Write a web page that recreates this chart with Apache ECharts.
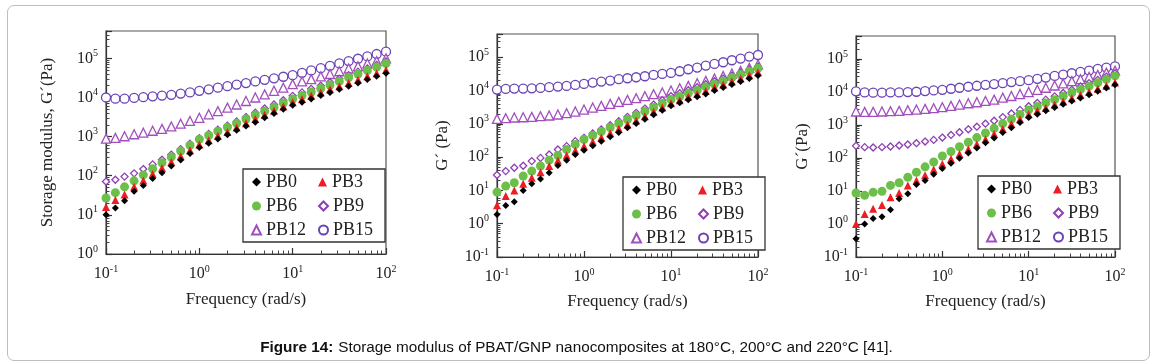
<!DOCTYPE html>
<html>
<head>
<meta charset="utf-8">
<script src="https://cdn.jsdelivr.net/npm/echarts@6/dist/echarts.min.js"></script>
<style>
  html, body { margin: 0; padding: 0; background: #fff; }
  #wrap { position: relative; width: 1153px; height: 364px; }
  #frame { position: absolute; left: 7px; top: 5px; width: 1143px; height: 356px;
           border: 1px solid #bdbdbd; border-radius: 7px; box-sizing: border-box; }
  #chart { position: absolute; left: 0; top: 0; width: 1153px; height: 364px; }
</style>
</head>
<body>
<div id="wrap">
  <div id="frame"></div>
  <div id="chart"></div>
</div>
<script>
// angular frequency (rad/s), 10 points per decade
const freq = [0.1, 0.126, 0.158, 0.2, 0.251, 0.316, 0.398, 0.501, 0.631, 0.794,
  1, 1.26, 1.58, 2, 2.51, 3.16, 3.98, 5.01, 6.31, 7.94,
  10, 12.6, 15.8, 20, 25.1, 31.6, 39.8, 50.1, 63.1, 79.4, 100];

const names = ['PB0', 'PB3', 'PB6', 'PB9', 'PB12', 'PB15'];
const yTitles = ['Storage modulus, G\u00b4(Pa)', 'G\u00b4 (Pa)', 'G\u00b4(Pa)'];
const yMins = [1, 0.1, 0.1];
const caption = 'Storage modulus of PBAT/GNP nanocomposites at 180°C, 200°C and 220°C [41].';

// 180 °C
const pb0At180 = [10, 15, 23, 40, 56, 85, 120, 178, 251, 372, 525, 676, 871, 1120, 1450, 1860, 2340, 3020, 3890, 5010, 6310, 7590, 9120, 11200, 13500, 16200, 19500, 23400, 28800, 34700, 41700];
const pb3At180 = [16, 24, 33, 52, 76, 110, 158, 224, 316, 447, 631, 813, 1050, 1320, 1700, 2190, 2820, 3630, 4570, 5890, 7590, 9120, 11000, 13500, 16200, 19500, 23400, 28200, 34700, 41700, 50100];
const pb6At180 = [27, 37, 52, 74, 105, 151, 214, 302, 427, 603, 851, 1070, 1380, 1740, 2190, 2820, 3550, 4470, 5620, 7240, 9120, 11200, 13800, 17000, 20900, 25700, 32400, 39800, 49000, 60300, 74100];
const pb9At180 = [71, 79, 95, 115, 148, 195, 257, 347, 479, 661, 912, 1170, 1510, 1910, 2450, 3160, 4070, 5250, 6610, 8510, 11000, 13500, 16600, 20000, 24500, 30200, 37200, 45700, 55000, 67600, 83200];
const pb12At180 = [890, 930, 1020, 1150, 1260, 1410, 1580, 1820, 2140, 2510, 3020, 3720, 4470, 5500, 6610, 8130, 10000, 12000, 14800, 17800, 21900, 25700, 29500, 34700, 39800, 46800, 55000, 63100, 74100, 85100, 100000];
const pb15At180 = [10000, 9330, 9330, 9770, 10200, 10700, 11200, 11700, 12600, 13500, 14800, 16200, 17800, 19500, 21400, 23400, 25700, 28200, 30900, 33900, 37200, 42700, 49000, 56200, 64600, 74100, 85100, 97700, 112000, 129000, 148000];

// 200 °C
const pb0At200 = [1.9, 3.5, 4.6, 10, 16, 22, 34, 56, 81, 120, 162, 219, 302, 407, 550, 759, 1020, 1380, 1860, 2570, 3470, 4270, 5250, 6460, 7940, 10000, 12300, 15100, 18600, 22900, 28200];
const pb3At200 = [3.6, 6.8, 10, 16, 24, 35, 54, 79, 112, 158, 214, 288, 389, 525, 708, 955, 1260, 1700, 2290, 3090, 4170, 5130, 6460, 7940, 9770, 12300, 15100, 18600, 22900, 28800, 35500];
const pb6At200 = [8.9, 13.5, 17, 27, 38, 54, 81, 112, 170, 240, 339, 447, 589, 776, 1020, 1350, 1780, 2340, 3090, 4070, 5370, 6610, 8320, 10200, 12900, 15800, 19500, 24500, 30200, 38000, 46800];
const pb9At200 = [29, 38, 48, 55, 76, 95, 120, 170, 214, 302, 380, 513, 676, 912, 1200, 1620, 2140, 2880, 3800, 5130, 6760, 8320, 10200, 12600, 15500, 19100, 22900, 28200, 34700, 42700, 52500];
const pb12At200 = [1410, 1480, 1550, 1580, 1620, 1700, 1780, 1910, 2090, 2340, 2690, 3090, 3470, 3980, 4570, 5250, 5890, 6760, 7760, 8710, 10000, 11700, 13800, 16600, 19500, 22900, 27500, 32400, 38900, 47900, 60300];
const pb15At200 = [10700, 11200, 11500, 11500, 11700, 12000, 12600, 13200, 13800, 14800, 15800, 17400, 18600, 20000, 21900, 23400, 25100, 26900, 29500, 31600, 33900, 38000, 43700, 49000, 56200, 63100, 70800, 81300, 91200, 105000, 117000];

// 220 °C
const pb0At220 = [0.36, 1.0, 1.48, 1.66, 2.7, 5.8, 8.3, 15.8, 21, 32, 48, 69, 98, 141, 200, 288, 407, 589, 832, 1200, 1700, 2140, 2690, 3390, 4270, 5370, 6610, 8320, 10500, 13200, 16600];
const pb3At220 = [1.0, 2.0, 2.9, 3.8, 6.5, 8.7, 14.8, 21, 30, 45, 66, 93, 132, 186, 263, 372, 537, 759, 1070, 1510, 2140, 2690, 3310, 4170, 5130, 6460, 8130, 10000, 12600, 15500, 19500];
const pb6At220 = [8.7, 7.4, 9.1, 9.8, 14.8, 17.8, 26, 37, 54, 76, 115, 158, 219, 302, 417, 575, 794, 1100, 1510, 2090, 2880, 3630, 4680, 5890, 7410, 9550, 12000, 15100, 19100, 24500, 30900];
const pb9At220 = [234, 214, 209, 214, 224, 240, 257, 282, 316, 355, 417, 501, 603, 741, 891, 1100, 1350, 1740, 2240, 2880, 3720, 4680, 5890, 7410, 9330, 11700, 14800, 18600, 23400, 29500, 37200];
const pb12At220 = [2570, 2510, 2510, 2570, 2630, 2690, 2820, 2950, 3090, 3240, 3470, 3800, 4170, 4570, 4900, 5370, 5890, 6760, 7590, 8710, 10000, 11700, 13500, 15800, 18200, 21400, 24500, 28800, 33100, 38900, 44700];
const pb15At220 = [10500, 9770, 9550, 9550, 9770, 9770, 10000, 10200, 10700, 11200, 11700, 12600, 13500, 14500, 15500, 16600, 17400, 18600, 20000, 21400, 22900, 25100, 27500, 30900, 33900, 37200, 40700, 44700, 50100, 55000, 60300];

const panels = [
  [pb0At180, pb3At180, pb6At180, pb9At180, pb12At180, pb15At180],
  [pb0At200, pb3At200, pb6At200, pb9At200, pb12At200, pb15At200],
  [pb0At220, pb3At220, pb6At220, pb9At220, pb12At220, pb15At220]
];

const serif = '"Liberation Serif", "DejaVu Serif", serif';
const sans = '"Liberation Sans Narrow", "Liberation Sans", Arial, sans-serif';
const ink = '#222';

// marker look per sample
const looks = [
  { symbol: 'diamond', size: 7, fill: '#000', line: '#000' },
  { symbol: 'triangle', size: 8, fill: '#ee1c23', line: '#ee1c23' },
  { symbol: 'circle', size: 9, fill: '#6cc049', line: '#6cc049' },
  { symbol: 'diamond', size: 7, fill: '#fff', line: '#8e3fb3' },
  { symbol: 'triangle', size: 9, fill: '#fff', line: '#a24fbd' },
  { symbol: 'circle', size: 9, fill: '#fff', line: '#6a43b6' }
];

const grids = [
  { left: 106, top: 31, width: 280, height: 223 },
  { left: 497, top: 34, width: 261, height: 223 },
  { left: 856, top: 36, width: 259, height: 221 }
];
const legendPos = [
  { left: 243, top: 169 },
  { left: 623, top: 177 },
  { left: 978, top: 176 }
];
const xNameGap = [37, 36, 36];
const yNameGap = [50, 46, 45];

// log minor tick positions (2..9 x 10^n) inside [lo, hi]
function minorValues(lo, hi) {
  const out = [];
  for (let e = Math.floor(Math.log10(lo)); e <= Math.ceil(Math.log10(hi)); e++) {
    for (let m = 2; m <= 9; m++) {
      const v = m * Math.pow(10, e);
      if (v > lo * 1.0001 && v < hi * 0.9999) out.push(v);
    }
  }
  return out;
}

function powLabel(v) {
  const e = Math.log10(v);
  const r = Math.round(e);
  if (Math.abs(e - r) > 1e-6) return '';
  return '{b|10}{s|' + (r < 0 ? '-' + (-r) : r) + '}';
}

const powRich = {
  b: { fontFamily: serif, fontSize: 16, color: ink, lineHeight: 20 },
  s: { fontFamily: serif, fontSize: 10, color: ink, verticalAlign: 'top', lineHeight: 12 }
};

const xAxes = [], yAxes = [], series = [], legends = [];

grids.forEach((g, p) => {
  const lineStyle = { color: '#333', width: 1.2 };
  const minorStyle = { color: '#444', width: 1 };
  const yMax = 500000;
  g.show = true;
  g.borderColor = '#555';
  g.borderWidth = 1.2;
  g.backgroundColor = 'transparent';

  xAxes.push({
    type: 'log', logBase: 10, gridIndex: p, min: 0.1, max: 100, position: 'bottom',
    name: 'Frequency (rad/s)', nameLocation: 'middle', nameGap: xNameGap[p],
    nameTextStyle: { fontFamily: serif, fontSize: 17, color: ink },
    axisLine: { lineStyle },
    axisTick: { show: true, inside: true, length: 6, lineStyle },
    axisLabel: { formatter: powLabel, rich: powRich, margin: 10 },
    splitLine: { show: false }
  });
  // minor ticks: a second axis moved onto the bottom edge, ticks pointing up
  xAxes.push({
    type: 'log', logBase: 10, gridIndex: p, min: 0.1, max: 100, position: 'top',
    offset: -g.height,
    axisLine: { show: false },
    axisTick: { show: true, inside: false, length: 3.5, customValues: minorValues(0.1, 100), lineStyle: minorStyle },
    axisLabel: { show: false }, splitLine: { show: false }
  });
  yAxes.push({
    type: 'log', logBase: 10, gridIndex: p, min: yMins[p], max: yMax, position: 'left',
    name: yTitles[p], nameLocation: 'middle', nameGap: yNameGap[p], nameRotate: 90,
    nameTextStyle: { fontFamily: serif, fontSize: 17, color: ink },
    axisLine: { lineStyle },
    axisTick: { show: true, inside: true, length: 6, lineStyle },
    axisLabel: { formatter: powLabel, rich: powRich, margin: 8 },
    splitLine: { show: false }
  });
  yAxes.push({
    type: 'log', logBase: 10, gridIndex: p, min: yMins[p], max: yMax, position: 'right',
    offset: -g.width,
    axisLine: { show: false },
    axisTick: { show: true, inside: false, length: 3.5, customValues: minorValues(yMins[p], yMax), lineStyle: minorStyle },
    axisLabel: { show: false }, splitLine: { show: false }
  });

  // draw PB15 first so PB0 ends on top
  for (let k = names.length - 1; k >= 0; k--) {
    const look = looks[k];
    const vals = panels[p][k];
    series.push({
      type: 'scatter', name: names[k], xAxisIndex: 2 * p, yAxisIndex: 2 * p,
      symbol: look.symbol, symbolSize: look.size,
      itemStyle: { color: look.fill, borderColor: look.line, borderWidth: look.fill === '#fff' ? 1.3 : 0, opacity: 1 },
      emphasis: { disabled: true },
      data: freq.map((f, i) => [f, vals[i]])
    });
  }

  legends.push({
    data: names, left: legendPos[p].left, top: legendPos[p].top,
    orient: 'horizontal', width: 132, itemGap: 6,
    itemWidth: 9, itemHeight: 9,
    padding: [4, 6, 3, 8],
    borderColor: '#333', borderWidth: 1.3, backgroundColor: '#fff',
    selectedMode: false,
    textStyle: { fontFamily: serif, fontSize: 18, color: ink, width: 46, lineHeight: 18 }
  });
});

const chart = echarts.init(document.getElementById('chart'), null, { renderer: 'canvas' });
chart.setOption({
  animation: false,
  grid: grids,
  xAxis: xAxes,
  yAxis: yAxes,
  legend: legends,
  title: {
    text: '{b|Figure 14:} {n|' + caption + '}',
    left: 'center', top: 334,
    textStyle: {
      fontWeight: 'normal',
      rich: {
        b: { fontFamily: sans, fontWeight: 'bold', fontSize: 15.3, color: '#111' },
        n: { fontFamily: sans, fontWeight: 'normal', fontSize: 15.3, color: '#111' }
      }
    }
  },
  series
});
</script>
</body>
</html>
